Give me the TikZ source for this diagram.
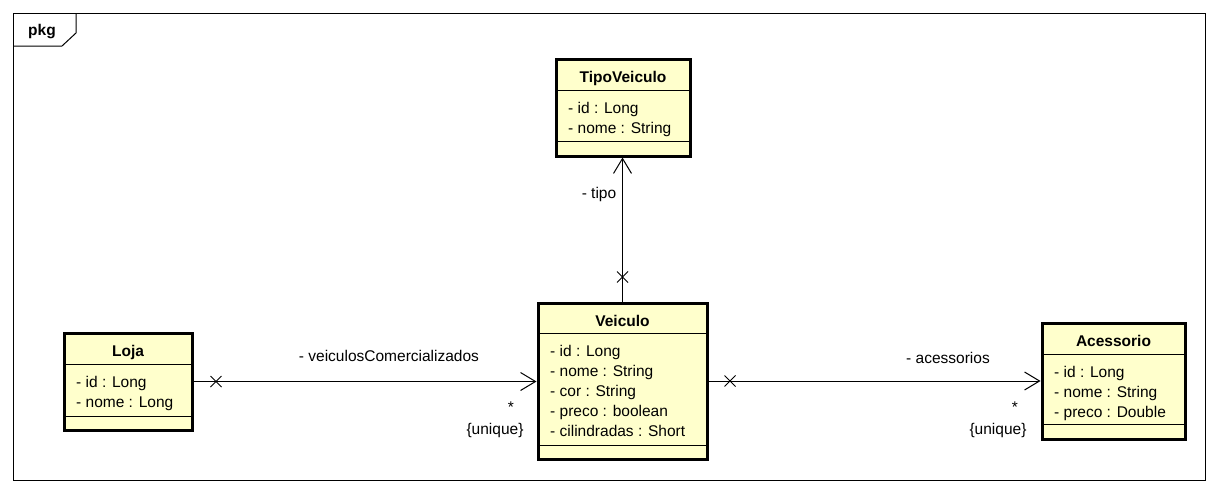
\documentclass[tikz,border=0pt]{standalone}
\usepackage{fontspec}
\setmainfont{Liberation Sans}
\usetikzlibrary{positioning,shapes.misc,arrows.meta}
\definecolor{classfill}{RGB}{255,255,204}
\newcommand{\mFont}{\fontsize{15.5}{20}\selectfont}
\tikzset{
  umlbox/.style={draw,line width=3pt,fill=classfill,anchor=north west,inner sep=0pt,outer sep=0pt},
  umltitle/.style={font=\mFont\bfseries,inner sep=0pt,anchor=base},
  umlattr/.style={font=\mFont,align=left,inner sep=0pt,anchor=north west},
  lbl/.style={font=\mFont,inner sep=0pt},
  xmark/.style={cross out,draw,line width=1pt,minimum size=10pt,inner sep=0pt},
  assoc/.style={line width=1pt,shorten >=1.5pt,-{Straight Barb[length=15pt,width=18pt,line width=1pt]}}
}
% name, x, y, width, height, upper separator, lower separator, title, attributes
\newcommand{\umlclass}[9]{
  \node[umlbox,minimum width=#4,minimum height=#5] (#1) at (#2,#3) {};
  \draw[line width=1pt] ([yshift=-#6]#1.north west) -- ([yshift=-#6]#1.north east);
  \draw[line width=1pt] ([yshift=#7]#1.south west) -- ([yshift=#7]#1.south east);
  \node[umltitle] (#1-title) at ([yshift=-23pt]#1.north) {#8};
  \node[umlattr] (#1-attr) at ([xshift=12pt,yshift={-(#6+12.5)}]#1.north west) {#9};
}

\begin{document}
\begin{tikzpicture}[x=1pt,y=-1pt]
    \useasboundingbox (0,0) rectangle (1218,493);
    \draw[line width=1pt] (13,13) rectangle (1205,480);
    \draw[line width=1pt] (13,46) -- (62,46) -- (76,33) -- (76,13);
    \node[umltitle] (pkg) at (42,35) {pkg};
    \umlclass{tipo}{556}{59}{134}{97}{31}{15}{TipoVeiculo}{- id : Long\\- nome : String};
    \umlclass{veiculo}{538}{303}{169}{156}{30}{14}{Veiculo}{- id : Long\\- nome : String\\- cor : String\\- preco : boolean\\- cilindradas : Short};
    \umlclass{loja}{64}{333}{128}{97}{31}{14}{Loja}{- id : Long\\- nome : Long};
    \umlclass{acessorio}{1042}{323}{143}{116}{31}{15}{Acessorio}{- id : Long\\- nome : String\\- preco : Double};
    \draw[assoc] (veiculo.north) -- (veiculo.north |- tipo.south);
    \node[xmark] (tipo-x) at ([yshift=26pt]veiculo.north) {};
    \node[lbl] (tipo-role) at ([xshift=-24pt,yshift=-38pt]tipo.south) {- tipo};
    \draw[assoc] (loja.east) -- (loja.east -| veiculo.west);
    \node[xmark] (loja-x) at ([xshift=24pt]loja.east) {};
    \node[lbl] (loja-role) at ([xshift=-149pt,yshift=25pt]veiculo.west) {- veiculosComercializados};
    \node[lbl] (loja-mult) at ([xshift=-27pt,yshift=-26pt]veiculo.west) {*};
    \node[lbl] (loja-unique) at ([xshift=-43pt,yshift=-49pt]veiculo.west) {\{unique\}};
    \draw[assoc] (veiculo.east) -- (veiculo.east -| acessorio.west);
    \node[xmark] (acessorio-x) at ([xshift=23pt]veiculo.east) {};
    \node[lbl] (acessorio-role) at ([xshift=-94pt,yshift=23pt]acessorio.west) {- acessorios};
    \node[lbl] (acessorio-mult) at ([xshift=-27pt,yshift=-26pt]acessorio.west) {*};
    \node[lbl] (acessorio-unique) at ([xshift=-44pt,yshift=-49pt]acessorio.west) {\{unique\}};
\end{tikzpicture}
\end{document}
